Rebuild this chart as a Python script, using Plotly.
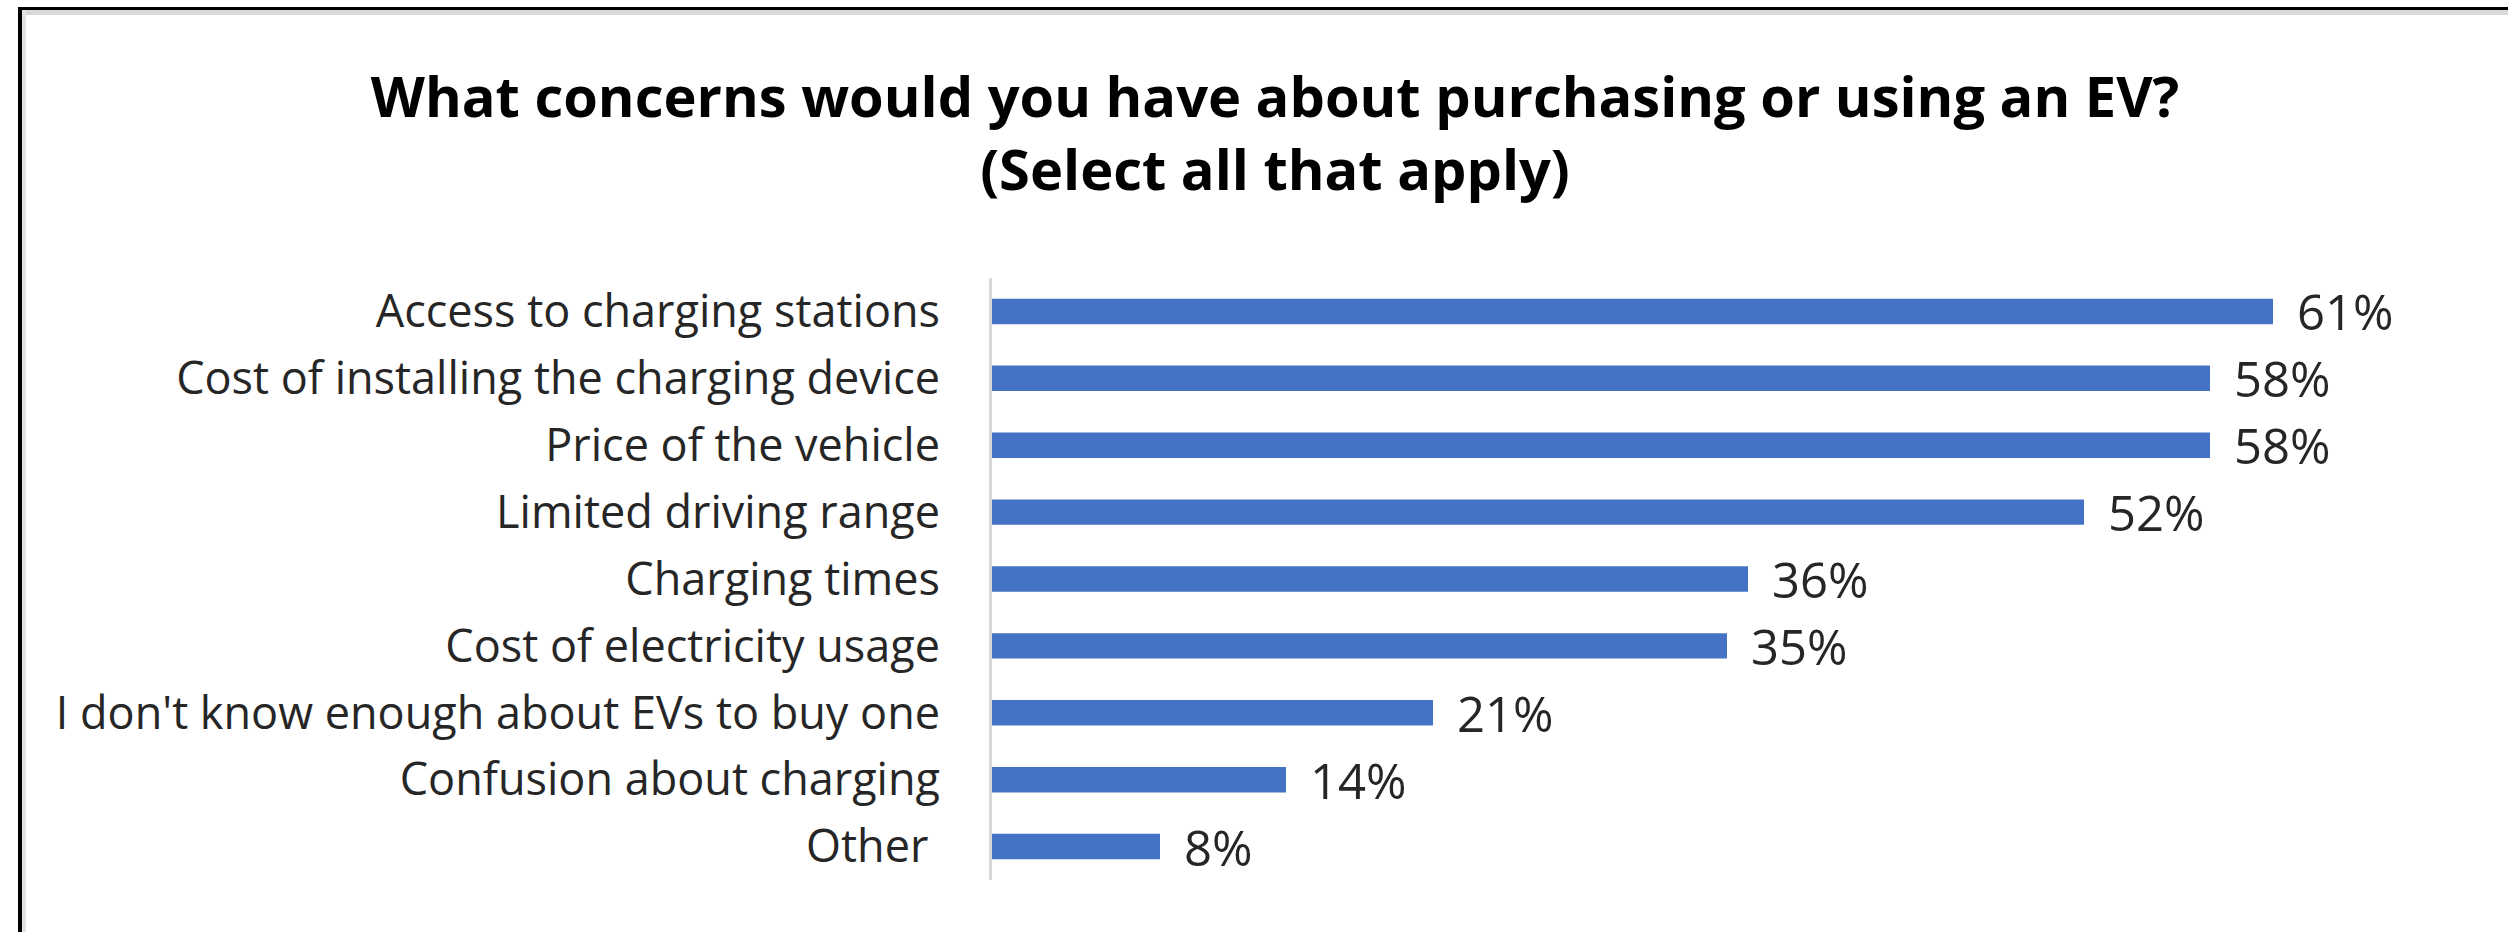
import plotly.graph_objects as go

# Survey responses, listed top to bottom as shown
concerns = [
    "Access to charging stations",
    "Cost of installing the charging device",
    "Price of the vehicle",
    "Limited driving range",
    "Charging times",
    "Cost of electricity usage",
    "I don't know enough about EVs to buy one",
    "Confusion about charging",
    "Other ",
]
shares = [61, 58, 58, 52, 36, 35, 21, 14, 8]
value_labels = [f"{v}%" for v in shares]

W, H = 2508, 932
L, R, T, B = 992, 46, 278, 52
plot_w, plot_h = W - L - R, H - T - B


def px_x(x):
    return (x - L) / plot_w


def px_y(y):
    return 1 - (y - T) / plot_h


BAR = "#4472C4"
TEXT = "#262626"
FONT = "'Open Sans', Lato, sans-serif"

fig = go.Figure(
    go.Bar(
        x=shares,
        y=concerns,
        orientation="h",
        marker=dict(color=BAR, line=dict(width=0)),
        hoverinfo="skip",
    )
)

for cat, v, lab in zip(concerns, shares, value_labels):
    fig.add_annotation(
        x=v, y=cat, text=lab, showarrow=False,
        xanchor="left", yanchor="middle", xshift=22,
        font=dict(family=FONT, size=49, color=TEXT),
    )

# frame: dark rule along top and left edges with a soft grey inner edge
frame = [
    dict(x0=px_x(18), x1=px_x(W + 5), y0=px_y(7), y1=px_y(10), color="#000000"),
    dict(x0=px_x(22), x1=px_x(W + 5), y0=px_y(10), y1=px_y(15), color="#d9d9d9"),
    dict(x0=px_x(18), x1=px_x(22), y0=px_y(7), y1=px_y(H + 5), color="#000000"),
    dict(x0=px_x(22), x1=px_x(26), y0=px_y(10), y1=px_y(H + 5), color="#e3e3e3"),
]
for f in frame:
    fig.add_shape(
        type="rect", xref="paper", yref="paper",
        x0=f["x0"], x1=f["x1"], y0=f["y0"], y1=f["y1"],
        fillcolor=f["color"], line=dict(width=0), layer="above",
    )

fig.update_layout(
    width=W, height=H,
    margin=dict(l=L, r=R, t=T, b=B, pad=0),
    paper_bgcolor="white", plot_bgcolor="white",
    bargap=0.62,
    showlegend=False,
    title=dict(
        text="What concerns would you have about purchasing or using an EV?<br>(Select all that apply)",
        x=1275 / W, xanchor="center", xref="container",
        y=1 - 117 / H, yanchor="middle", yref="container",
        font=dict(family=FONT, size=56, color="#000000", weight="bold"),
    ),
    xaxis=dict(
        range=[0, 70], visible=False, fixedrange=True,
    ),
    yaxis=dict(
        categoryorder="array", categoryarray=concerns[::-1],
        range=[-0.5, len(concerns) - 0.5],
        showline=True, linecolor="#d9d9d9", linewidth=3,
        showgrid=False, ticks="", zeroline=False,
        ticklabelstandoff=40,
        tickfont=dict(family=FONT, size=45, color=TEXT),
        fixedrange=True,
    ),
)

fig.write_html("out.html")
